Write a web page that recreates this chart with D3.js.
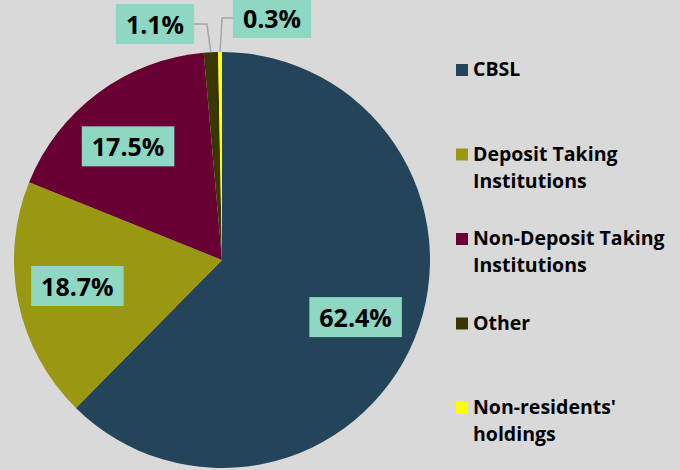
<!DOCTYPE html>
<html><head><meta charset="utf-8">
<script src="https://cdn.jsdelivr.net/npm/d3@7"></script>
<style>
html,body{margin:0;padding:0;background:#d9d9d9;}
svg{display:block;font-family:"Open Sans","Noto Sans",sans-serif;font-weight:700;}
</style></head>
<body>
<svg id="chart" width="680" height="470"></svg>
<script>
const categories = ["CBSL", "Deposit Taking Institutions", "Non-Deposit Taking Institutions", "Other", "Non-residents' holdings"];
const legendLines = [["CBSL"], ["Deposit Taking", "Institutions"], ["Non-Deposit Taking", "Institutions"], ["Other"], ["Non-residents'", "holdings"]];
const values = [62.4, 18.7, 17.5, 1.1, 0.3];
const valueLabels = ["62.4%", "18.7%", "17.5%", "1.1%", "0.3%"];
const colors = ["#244459", "#9a9710", "#680033", "#3a3600", "#ffff00"];

const svg = d3.select("#chart");
svg.append("rect").attr("width",680).attr("height",470).attr("fill","#d9d9d9");

const cx = 222, cy = 260, R = 208;
const pie = d3.pie().sort(null).value(d => d)(values);
const arc = d3.arc().innerRadius(0).outerRadius(R);
const g = svg.append("g").attr("transform", `translate(${cx},${cy})`);
g.selectAll("path").data(pie).join("path")
  .attr("d", arc).attr("fill", (d,i) => colors[i]);

const labelArc = d3.arc().innerRadius(R*0.71).outerRadius(R*0.71);
const boxFill = "#8dd7c3";
const fs = 25;

function drawLabel(text, x, y) {
  const lg = svg.append("g");
  const rect = lg.append("rect").attr("fill", boxFill);
  const t = lg.append("text").attr("x", x).attr("y", y).attr("text-anchor","middle")
    .attr("dominant-baseline","central").attr("font-size", fs).attr("fill","#000").text(text);
  const w = t.node().getComputedTextLength();
  const bw = w + 20, bh = 40;
  rect.attr("x", x - bw/2).attr("y", y - bh/2).attr("width", bw).attr("height", bh);
  return {bw, bh};
}

const nudges = [[-3, 1], [0, -4], [-6, 5]];
[0,1,2].forEach(i => {
  const c = labelArc.centroid(pie[i]);
  drawLabel(valueLabels[i], cx + c[0] + nudges[i][0], cy + c[1] + nudges[i][1]);
});

function outsidePoint(i){ const m=(pie[i].startAngle+pie[i].endAngle)/2; return [cx + R*Math.sin(m), cy - R*Math.cos(m)]; }
{
  const p = outsidePoint(3);
  const ly = 24, ex = p[0] - 4, bx = 155;
  const sz = drawLabel(valueLabels[3], bx, ly);
  svg.append("polyline").attr("points", `${p[0]},${p[1]} ${ex},${ly} ${bx+sz.bw/2},${ly}`)
    .attr("fill","none").attr("stroke","#a6a6a6").attr("stroke-width",1.5);
}
{
  const p = outsidePoint(4);
  const ly = 18, ex = p[0] + 2, bx = 272;
  const sz = drawLabel(valueLabels[4], bx, ly);
  svg.append("polyline").attr("points", `${p[0]},${p[1]} ${ex},${ly} ${bx-sz.bw/2},${ly}`)
    .attr("fill","none").attr("stroke","#a6a6a6").attr("stroke-width",1.5);
}

const lgY = d3.scalePoint().domain(categories).range([76, 414]);
const leg = svg.append("g");
categories.forEach((c,i) => {
  const y = lgY(c);
  leg.append("rect").attr("x",456).attr("y",y-12).attr("width",12).attr("height",12).attr("fill",colors[i]);
  legendLines[i].forEach((ln,j) => leg.append("text").attr("x",473).attr("y", y + j*27)
    .attr("font-size",19.5).attr("fill","#000").text(ln));
});
</script>
</body></html>
